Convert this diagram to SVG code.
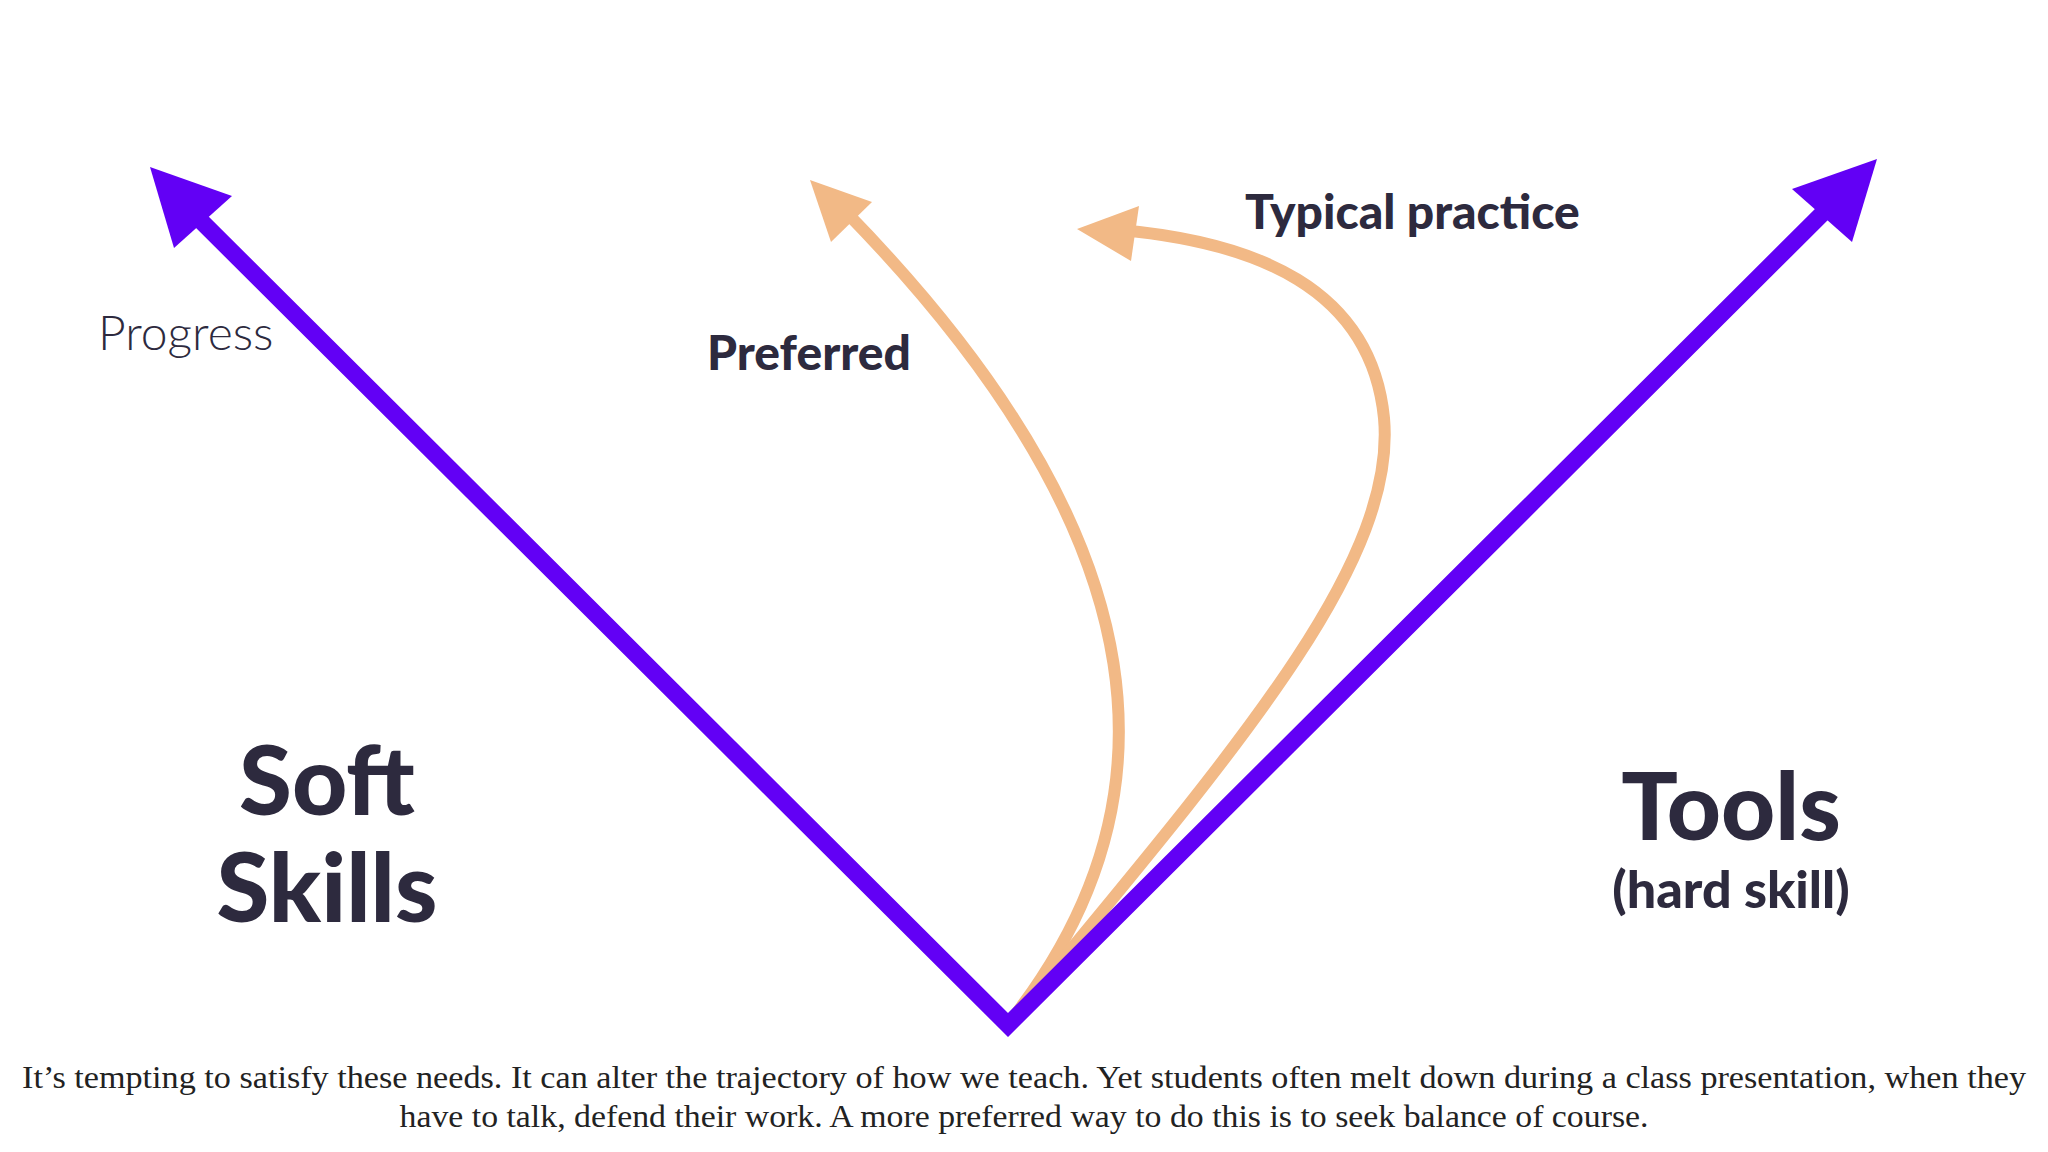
<svg xmlns="http://www.w3.org/2000/svg" width="2048" height="1152" viewBox="0 0 2048 1152">
<style>
.p{fill:none;stroke:#6200F5;stroke-width:17}
.o{fill:none;stroke:#F2B986;stroke-width:12;stroke-linecap:round}
.t{font-family:Lato,"Liberation Sans",sans-serif;fill:#2D2A3E}
.b{font-weight:900}
.c{font-family:"Liberation Serif",serif;font-size:32px;fill:#222;text-anchor:middle}
</style>
<rect width="2048" height="1152" fill="#fff"/>
<g id="connectors">
<path class="o" d="M1012 1019 C1175 810 1175 549 846 212"/>
<polygon fill="#F2B986" points="810,180 872,202 831,242"/>
<path class="o" d="M1019 1012 C1241 744 1397 562 1384 418 C1371 287 1254 242 1120 230"/>
<polygon fill="#F2B986" points="1077,229 1139,206 1131,261"/>
<polyline class="p" points="190,210 1008,1025 1830,206"/>
<polygon fill="#6200F5" points="150,167 232,196 174,248"/>
<polygon fill="#6200F5" points="1877,159 1792,189 1852,242"/>
</g>
<g id="progress"><text class="t" x="98" y="350" font-size="48" font-weight="300">Progress</text></g>
<g id="preferred"><text class="t b" x="707" y="370" font-size="48">Preferred</text></g>
<g id="typical"><text class="t b" x="1245" y="229" font-size="48">Typical practice</text></g>
<g id="soft" text-anchor="middle"><text class="t b" x="327" y="815" font-size="96">Soft</text><text class="t b" x="327" y="922" font-size="96">Skills</text></g>
<g id="tools" text-anchor="middle"><text class="t b" x="1731" y="840" font-size="94">Tools</text><text class="t b" x="1731" y="908" font-size="52">(hard skill)</text></g>
<g id="caption"><text class="c" x="1024" y="1088" textLength="2004" lengthAdjust="spacingAndGlyphs">It’s tempting to satisfy these needs. It can alter the trajectory of how we teach. Yet students often melt down during a class presentation, when they</text><text class="c" x="1024" y="1127" textLength="1249" lengthAdjust="spacingAndGlyphs">have to talk, defend their work. A more preferred way to do this is to seek balance of course.</text></g>
</svg>
